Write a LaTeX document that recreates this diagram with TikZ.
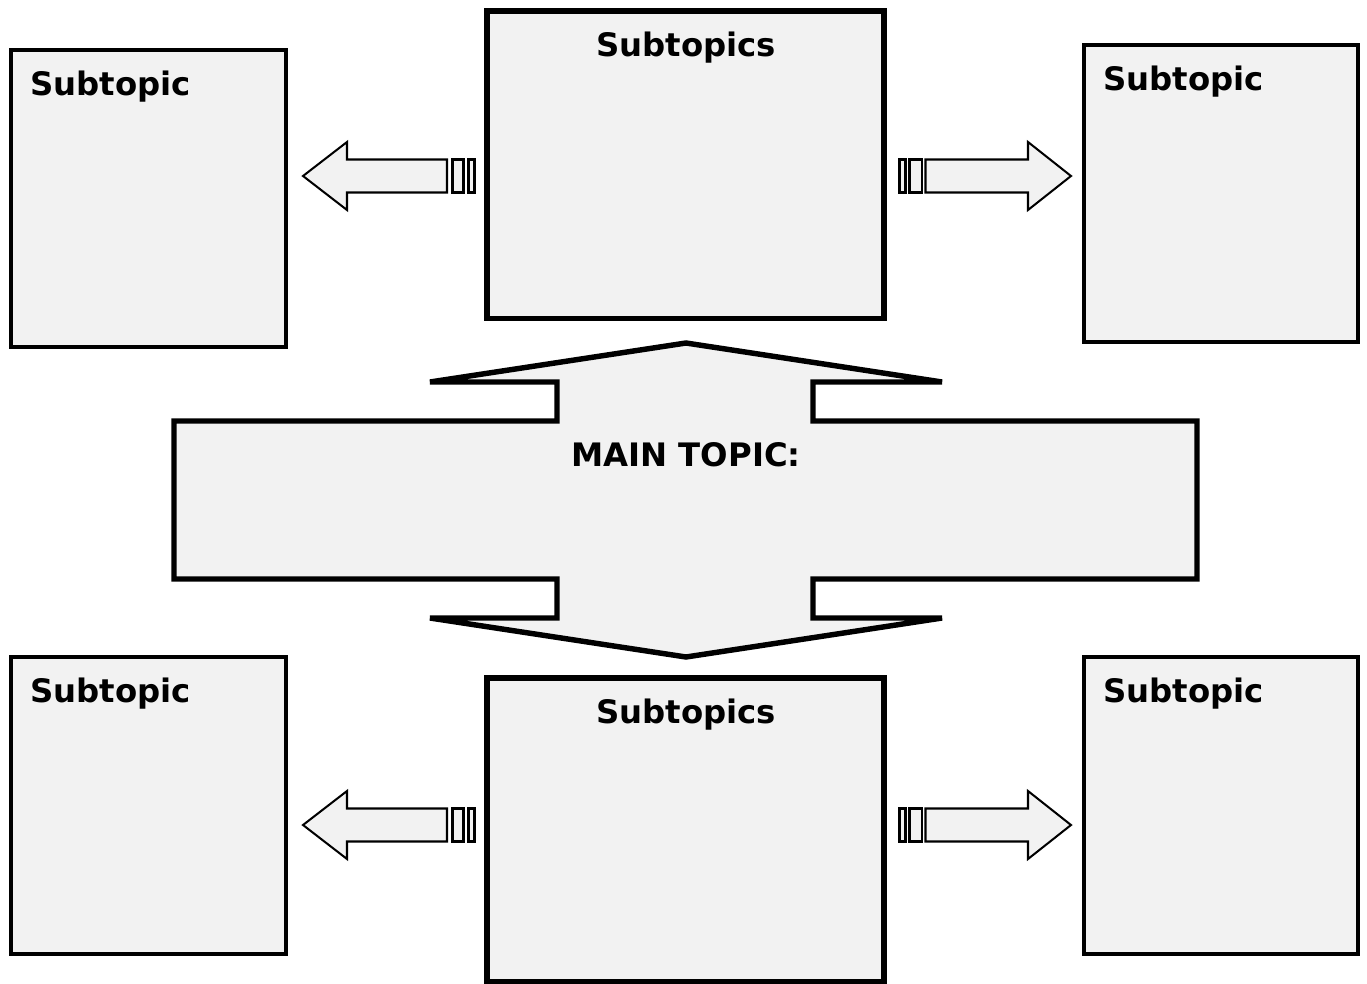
\documentclass[tikz,border=0pt]{standalone}
\usepackage{fontspec}
\setmainfont{DejaVu Sans}
\definecolor{panel}{HTML}{F2F2F2}
\begin{document}
\begin{tikzpicture}[x=0.02cm,y=-0.02cm,
  sidebox/.style={draw=black, fill=panel, line width=2.1pt},
  centerbox/.style={draw=black, fill=panel, line width=3.1pt},
  hub/.style={draw=black, fill=panel, line width=3.1pt, line join=miter},
  blockarrow/.style={draw=black, fill=panel, line width=1.15pt, line join=miter},
  label/.style={font=\bfseries\fontsize{18.4}{20}\selectfont, inner sep=0pt}]
\useasboundingbox (0,0) rectangle (1367,984);

% side boxes
\draw[sidebox] (11,50) rectangle (286,347);
\draw[sidebox] (1084,45) rectangle (1358,342);
\draw[sidebox] (11,657) rectangle (286,954);
\draw[sidebox] (1084,657) rectangle (1358,954);

% centre boxes
\draw[centerbox] (487,11) rectangle (884,318.5);
\draw[centerbox] (487,678) rectangle (884,981.5);

% main topic double arrow
\draw[hub] (174,421) -- (557,421) -- (557,382) -- (430,382) -- (686,343)
  -- (942,382) -- (813,382) -- (813,421) -- (1197,421) -- (1197,579)
  -- (813,579) -- (813,618) -- (942,618) -- (686,657) -- (430,618)
  -- (557,618) -- (557,579) -- (174,579) -- cycle;

% striped block arrows, top row and bottom row
\foreach \dy in {0,649}{
  \begin{scope}[shift={(0,\dy)}]
    \draw[blockarrow] (303,176) -- (347,142) -- (347,159.5) -- (447,159.5)
      -- (447,192.5) -- (347,192.5) -- (347,210) -- cycle;
    \draw[blockarrow] (452.5,159.5) rectangle (463.5,192.5);
    \draw[blockarrow] (468.5,159.5) rectangle (474.5,192.5);
    \draw[blockarrow] (899.5,159.5) rectangle (905.5,192.5);
    \draw[blockarrow] (909.5,159.5) rectangle (922,192.5);
    \draw[blockarrow] (925.5,159.5) -- (1028,159.5) -- (1028,142) -- (1071,176)
      -- (1028,210) -- (1028,192.5) -- (925.5,192.5) -- cycle;
  \end{scope}
}

% labels
\node[label, anchor=base west] (tl) at (30,95) {Subtopic};
\node[label, anchor=base] (tc) at (686,56) {Subtopics};
\node[label, anchor=base west] (tr) at (1103,90) {Subtopic};
\node[label, anchor=base west] (bl) at (30,702) {Subtopic};
\node[label, anchor=base] (bc) at (686,723) {Subtopics};
\node[label, anchor=base west] (br) at (1103,702) {Subtopic};
\node[label, anchor=base] (main) at (686,466) {MAIN TOPIC:};
\end{tikzpicture}
\end{document}
